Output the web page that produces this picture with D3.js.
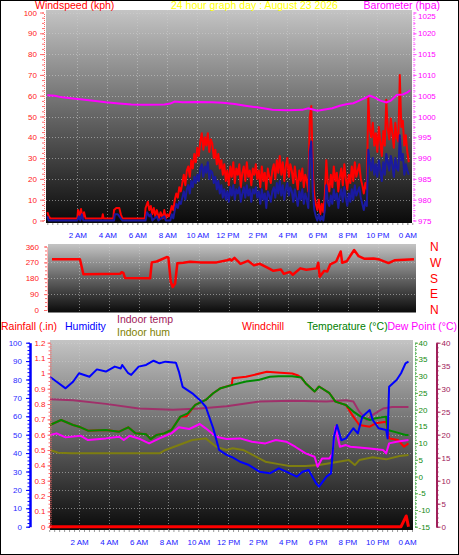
<!DOCTYPE html>
<html><head><meta charset="utf-8">
<script src="https://cdn.jsdelivr.net/npm/d3@7"></script>
<style>
html,body{margin:0;padding:0;background:#fff;}
svg{display:block;}
</style></head><body>
<svg id="c" width="459" height="555"></svg>
<script>
// ---------------- DATA ----------------
const hourTicks = [2,4,6,8,10,12,14,16,18,20,22,24];
const hourLabels = ["2 AM","4 AM","6 AM","8 AM","10 AM","12 PM","2 PM","4 PM","6 PM","8 PM","10 PM","0 AM"];
const kphTicks = [0,10,20,30,40,50,60,70,80,90,100];
const hpaTicks = [975,980,985,990,995,1000,1005,1010,1015,1020,1025];
const dirTicks = [0,90,180,270,360];
const dirLabels = ["N","E","S","W","N"];
const humTicks = [0,10,20,30,40,50,60,70,80,90,100];
const rainTicks = [0,0.1,0.2,0.3,0.4,0.5,0.6,0.7,0.8,0.9,1,1.1,1.2];
const tempTicks = [-15,-10,-5,0,5,10,15,20,25,30,35,40];
const inTempTicks = [0,5,10,15,20,25,30,35,40];

// calm night wind [hour, kph]
const gustNight = [[0,4],[0.1,2],[0.2,1],[2.0,1],[2.05,5],[2.15,2],[2.25,5.5],[2.35,1],[2.45,4],[2.55,1],[3.65,1],[3.7,3],[3.75,1],[4.4,1],[4.45,5],[4.6,6],[4.8,6],[4.9,3],[5.0,1],[6.5,1],[6.55,6],[6.7,9],[6.8,5],[6.9,7],[7.0,3],[7.1,6],[7.2,2],[7.3,5],[7.45,1],[7.55,4],[7.7,1],[7.8,5],[7.9,1],[8.0,3],[8.1,2]];
const avgNight = [[0,2],[0.1,0],[2.0,0],[2.1,2],[2.2,0],[2.3,3],[2.4,0],[4.45,0],[4.5,3],[4.7,3],[4.9,1],[5.0,0],[6.55,0],[6.65,4],[6.8,2],[6.9,3],[7.0,0],[7.3,2],[7.4,0],[7.8,2],[7.9,0],[8.1,0]];
// day wind, sampled every 0.1 h from 8.2 h
const windStart = 8.2, windStep = 0.1;
const gustDay = [4,7,5,10,13,11,16,14,
 18,22,17,24,26,21,29,25,32,28,
 35,31,38,42,34,40,36,42,33,39,
 37,30,34,27,32,25,29,22,27,19,
 24,17,26,21,28,18,25,22,27,16,
 23,26,19,28,21,24,17,25,22,27,
 20,24,16,26,19,23,15,25,21,18,
 24,27,20,29,23,31,22,28,19,26,
 30,21,27,24,18,26,20,15,24,19,
 25,16,22,19,14,50,55,24,12,8,
 5,10,3,8,4,12,29,18,14,22,
 16,26,19,23,14,21,25,17,27,20,
 15,22,18,26,19,28,21,24,27,20,
 17,13,18,15,59,44,40,47,36,42,
 33,45,38,31,43,36,58,44,39,49,
 42,35,47,40,38,70,45,48,36,41,
 33,28];
const avgDay = [0,3,1,5,8,6,9,8,
 11,14,10,15,17,13,19,16,21,18,
 22,19,25,27,21,26,23,28,20,24,
 23,18,21,15,19,13,17,11,15,10,
 14,9,16,12,17,10,15,13,16,9,
 13,16,11,17,12,15,9,15,13,16,
 11,14,8,15,10,13,6,14,12,9,
 14,16,11,18,13,19,12,17,10,15,
 18,12,16,14,9,15,11,7,14,10,
 15,8,13,10,6,33,38,14,5,2,
 0,3,0,2,0,5,17,9,7,12,
 8,15,10,13,6,12,15,9,16,11,
 7,13,9,15,10,17,12,14,16,11,
 8,5,9,7,34,28,24,30,22,27,
 21,29,24,19,28,22,32,28,24,31,
 27,21,30,25,24,41,29,32,22,27,
 24,22];
const barometer = [[0,1005.1],[0.5,1005.0],[1.0,1004.6],[1.7,1004.3],[2.5,1004.0],[3.2,1003.7],[3.9,1003.4],[4.6,1003.2],[5.6,1002.9],[6.5,1002.8],[7.8,1002.9],[8.2,1003.1],[8.5,1003.6],[9.0,1003.4],[10.0,1003.5],[11.0,1003.4],[11.7,1003.3],[12.5,1003.0],[13.2,1002.6],[14.0,1002.2],[15.0,1001.6],[16.0,1001.5],[17.0,1001.6],[17.4,1002.0],[18.0,1001.4],[18.5,1001.7],[19.0,1002.0],[19.5,1002.6],[20.0,1003.0],[20.4,1003.2],[20.8,1003.8],[21.2,1004.5],[21.5,1005.0],[21.8,1004.6],[22.2,1003.8],[22.6,1003.4],[22.9,1003.8],[23.3,1005.2],[23.7,1005.3],[24.0,1005.8],[24.2,1006.3]];
const windDir = [[0.2,288],[2.07,288],[2.3,203],[4.75,205],[4.86,214],[4.97,210],[5.08,182],[6.76,180],[6.87,270],[7.2,275],[7.87,300],[7.98,298],[8.14,160],[8.27,130],[8.43,150],[8.58,265],[8.98,268],[9.43,274],[10.1,270],[11.2,270],[11.9,282],[12.1,288],[12.2,280],[12.4,296],[12.8,262],[13.3,279],[13.7,253],[14.1,262],[14.6,240],[15.0,222],[15.5,230],[15.7,205],[16.1,216],[16.3,200],[16.8,236],[17.2,228],[17.9,236],[18.0,268],[18.1,188],[18.4,222],[18.6,218],[18.8,258],[19.2,275],[19.5,332],[19.6,268],[19.9,276],[20.4,340],[20.7,305],[21.1,290],[21.7,292],[22.1,286],[22.7,266],[23.1,282],[24.4,288]];
const humidity = [[0.05,81.5],[0.5,78.8],[1.1,75.2],[1.6,78.8],[2.0,83.4],[2.7,81.5],[3.2,85.5],[3.8,84.3],[4.4,87],[4.8,86],[4.9,87.9],[5.3,83.4],[5.5,82.5],[6.0,87],[6.5,87.9],[7.0,90.2],[7.4,88.8],[7.8,89.7],[8.5,89.1],[8.7,84.3],[8.95,76],[9.6,72.5],[10.1,68.9],[10.5,65.2],[11.0,53.5],[11.4,41.7],[11.9,39],[12.3,37.7],[12.8,35.3],[13.4,33.5],[14.1,29.9],[14.8,29],[15.4,31.7],[15.9,29.9],[16.6,27.2],[17.0,29.9],[17.4,30.8],[17.9,23.6],[18.1,21.8],[18.6,27.2],[18.9,29],[19.1,48.9],[19.3,55.3],[19.6,47],[19.9,48],[20.4,53.5],[20.7,50.7],[21.0,59.8],[21.5,63.4],[21.7,58],[22.1,53.5],[22.6,52.6],[22.7,48],[22.8,76],[23.3,79.7],[23.6,83.4],[23.9,88.8],[24.1,89.7]];
const temperature = [[0.05,15.4],[0.8,16.9],[1.6,15.4],[2.0,14.9],[2.6,13.7],[3.8,13.9],[4.7,13.4],[5.3,14.7],[5.8,12.9],[6.5,12.6],[6.8,11.2],[7.2,12.4],[7.7,12.9],[8.2,13.9],[8.5,15.9],[8.8,17.9],[9.3,18.9],[9.8,21.4],[10.5,22.9],[11.0,24.9],[11.5,26.4],[12.3,27.4],[13.2,28.4],[14.1,28.9],[14.8,29.8],[15.4,30],[16.3,30],[16.9,29.6],[17.2,27.9],[17.8,25.4],[18.1,26.9],[18.8,24.9],[19.2,22.4],[19.9,21.4],[20.4,19.4],[20.9,17.9],[21.5,16.9],[21.9,17.4],[22.6,17.9],[22.7,13.9],[23.3,13.2],[23.9,12.4],[24.1,12.4]];
const windchill = [[0.05,15.4],[0.8,16.9],[1.6,15.4],[2.0,14.9],[2.6,13.7],[3.8,13.9],[4.7,13.4],[5.3,14.7],[5.8,12.9],[6.5,12.6],[6.8,11.2],[7.2,12.4],[7.7,12.9],[8.2,13.9],[8.5,15.9],[8.8,17.9],[9.2,18.0],[9.8,21.4],[10.5,22.9],[11.0,24.9],[11.5,26.4],[12.25,27.4],[12.3,29.4],[13.2,29.8],[14.6,31.3],[15.5,31.0],[16.3,30.8],[16.7,30.2],[16.9,29.6],[17.2,27.9],[17.8,25.4],[18.1,26.9],[18.8,24.9],[19.2,22.4],[19.9,21.4],[20.4,17.9],[20.8,15.4],[21.5,14.9],[21.9,15.9],[22.6,16.4],[22.8,11.4],[23.4,10.9],[23.8,8.9],[24.1,9.9]];
const dewPoint = [[0.05,12.4],[0.5,12.9],[1.1,11.7],[2.1,12.2],[2.6,10.9],[3.8,11.4],[4.7,11.9],[5.0,10.9],[5.4,12.2],[6.1,11.2],[6.7,9.9],[7.4,11.4],[8.2,12.9],[8.7,14.7],[9.4,14.2],[10.1,15.7],[10.5,14.4],[11.2,11.9],[11.9,11.2],[12.8,11.4],[13.6,10.4],[14.5,9.9],[15.2,10.9],[15.9,10.4],[16.5,8.9],[17.2,6.9],[17.8,5.9],[18.0,2.9],[18.3,5.4],[18.8,5.4],[19.0,6.9],[19.2,14.9],[19.5,8.9],[19.9,9.4],[20.2,8.9],[20.8,8.7],[21.5,8.4],[22.4,7.9],[22.6,6.9],[22.8,9.9],[23.3,10.4],[24.1,10.9]];
const indoorTemp = [[0.05,27.7],[1.6,27.5],[3.8,26.7],[6.0,25.7],[8.3,25.4],[10.1,25.7],[11.9,26.2],[14.1,27.2],[16.3,27.4],[18.6,27.2],[19.9,27.5],[20.4,27.2],[20.8,25],[21.3,23.2],[21.7,24.3],[22.4,25.7],[23.0,26],[24.1,26]];
const indoorHum = [[0.05,41.7],[0.6,40.2],[1.5,39.9],[7.4,39.9],[7.8,41.7],[8.7,44.4],[9.6,47.1],[10.5,48],[11.2,43.5],[11.9,41.7],[12.3,42.6],[13.0,41.7],[13.9,38],[14.5,35.3],[15.4,34],[16.1,33],[17.2,33],[18.1,33.5],[19.0,34.8],[20.1,36.2],[20.5,33.5],[20.8,36.2],[21.7,37.7],[22.6,36.6],[23.5,38.4],[24.1,39]];
const rainfall = [[0,0],[23.6,0],[23.95,0.07],[24.1,0]];

// ---------------- DRAW ----------------
const F = '"Liberation Sans", Arial, Helvetica, sans-serif';
const svg = d3.select("#c").attr("font-family", F);
const defs = svg.append("defs");
const grad = defs.append("linearGradient").attr("id","bg").attr("x1",0).attr("y1",0).attr("x2",0).attr("y2",1);
grad.append("stop").attr("offset","0%").attr("stop-color","#c4c4c4");
grad.append("stop").attr("offset","45%").attr("stop-color","#6e6e6e");
grad.append("stop").attr("offset","100%").attr("stop-color","#0a0a0a");

svg.append("rect").attr("x",0.5).attr("y",0.5).attr("width",458).attr("height",554)
  .attr("fill","#fff").attr("stroke","#000");

function plotBg(x0,y0,x1,y1){
  svg.append("rect").attr("x",x0).attr("y",y0).attr("width",x1-x0).attr("height",y1-y0).attr("fill","url(#bg)");
}
function grid(xs, ys, xs_, ys_, x0,x1,y0,y1){
  const g = svg.append("g").attr("stroke","#d0d0d0").attr("stroke-opacity",0.55).attr("stroke-dasharray","1,2");
  xs.forEach(v=>g.append("line").attr("x1",Math.round(xs_(v))+0.5).attr("x2",Math.round(xs_(v))+0.5).attr("y1",y0).attr("y2",y1));
  ys.forEach(v=>g.append("line").attr("x1",x0).attr("x2",x1).attr("y1",Math.round(ys_(v))+0.5).attr("y2",Math.round(ys_(v))+0.5));
}
function styleAxis(g, textColor, lineColor, dash, width){
  g.select(".domain").attr("stroke",lineColor).attr("stroke-width",width||1).attr("stroke-dasharray",dash||null);
  g.selectAll(".tick line").attr("stroke",lineColor);
  g.selectAll(".tick text").attr("fill",textColor).style("font-size","8px").attr("font-family",F);
}
// mk: function returning a fresh d3 axis generator
function addAxis(mk, tx, ty, ticks, fmt, size, pad, textColor, lineColor, dash, width, minor, minorSize){
  if (minor){
    const mg = svg.append("g").attr("transform",`translate(${tx},${ty})`)
      .call(mk().tickValues(minor).tickFormat("").tickSize(minorSize).tickSizeOuter(0));
    mg.select(".domain").remove();
    mg.selectAll(".tick line").attr("stroke",lineColor);
  }
  const g = svg.append("g").attr("transform",`translate(${tx},${ty})`)
    .call(mk().tickValues(ticks).tickFormat(fmt).tickSize(size).tickPadding(pad).tickSizeOuter(0));
  styleAxis(g, textColor, lineColor, dash, width);
  return g;
}
function text(x,y,s,color,size,anchor){
  return svg.append("text").attr("x",x).attr("y",y).text(s).attr("fill",color)
    .style("font-size",size+"px").attr("text-anchor",anchor||"start");
}
const line = (xs, ys) => d3.line().x(d=>xs(d[0])).y(d=>ys(d[1]));
const hourFmt = d => hourLabels[hourTicks.indexOf(d)];

// ---- Top chart ----
const xT = d3.scaleLinear().domain([0,24]).range([47.3,407.3]);
const yW = d3.scaleLinear().domain([0,100]).range([220.5,12.5]);
const yP = d3.scaleLinear().domain([975,1025]).range([220.5,12.5]);
plotBg(46,10,412,223);
grid(hourTicks.slice(0,11), kphTicks.slice(1), xT, yW, 46,412,10,223);

const gust = gustNight.concat(gustDay.map((v,i)=>[windStart+i*windStep, v]));
const avg = avgNight.concat(avgDay.map((v,i)=>[windStart+i*windStep, v]));
svg.append("path").datum(gust).attr("d",line(xT,yW)).attr("fill","none").attr("stroke","#ff0000").attr("stroke-width",2).attr("stroke-linejoin","round");
svg.append("path").datum(avg).attr("d",line(xT,yW)).attr("fill","none").attr("stroke","#1a1aa0").attr("stroke-width",2).attr("stroke-linejoin","round");
svg.append("path").datum(barometer).attr("d",line(xT,yP)).attr("fill","none").attr("stroke","#ff00ff").attr("stroke-width",2);

addAxis(()=>d3.axisLeft(yW), 44, 0, kphTicks, d=>d, 4, 3, "#ff2020", "#ff6a6a", "1,1", 1, d3.range(0,101,2.5), 2);
const pAxis = addAxis(()=>d3.axisRight(yP), 413.5, 0, hpaTicks, d=>d, 3, 1.5, "#ff00ff", "#ff55ff", "1,1", 1, d3.range(975,1025.1,1.25), 2);
pAxis.selectAll(".tick text").filter(d=>d===1025).attr("dy","0.72em");
addAxis(()=>d3.axisBottom(xT), 0, 223, hourTicks, hourFmt, 2, 7, "#2020ff", "#9a9a9a", null, 0, d3.range(0,24.4,1/3), 2)
  .select(".domain").remove();

text(35,8.5,"Windspeed (kph)","#ff0000",10.5);
text(171,8.5,"24 hour graph day : August 23 2026","#ffff00",10.5);
text(440,8.5,"Barometer (hpa)","#ff00ff",10.5,"end");

// ---- Middle chart (wind direction) ----
const xM = d3.scaleLinear().domain([0,24]).range([49,408]);
const yD = d3.scaleLinear().domain([0,360]).range([310,246.5]);
plotBg(48,244,416,312.5);
grid(hourTicks.slice(0,11), [90,180,270], xM, yD, 48,416,244,312.5);
svg.append("path").datum(windDir).attr("d",line(xM,yD)).attr("fill","none").attr("stroke","#ff0000").attr("stroke-width",2.5).attr("stroke-linejoin","round");
addAxis(()=>d3.axisLeft(yD), 47, 0, dirTicks, d=>d, 3, 5, "#ff2020", "#ff6a6a", "1,1", 1, d3.range(0,361,22.5), 2);
svg.append("g").selectAll("text").data(dirTicks).join("text")
  .attr("x",430).attr("y",d=>yD(d)).attr("dy","0.36em").text((d,i)=>dirLabels[i])
  .attr("fill","#ff0000").style("font-size","12px");

// ---- Bottom chart ----
const xB = d3.scaleLinear().domain([0,24]).range([49.2,407]);
const yH = d3.scaleLinear().domain([0,100]).range([526.7,342.7]);
const yR = d3.scaleLinear().domain([0,1.2]).range([526.7,342.7]);
const yT = d3.scaleLinear().domain([-15,40]).range([526.7,342.7]);
const yI = d3.scaleLinear().domain([0,40]).range([526.7,342.7]);
plotBg(50,340,413,530);
grid(hourTicks.slice(0,11), humTicks.slice(1), xB, yH, 50,413,340,530);

const drawB = (data, ys, color, w) => svg.append("path").datum(data).attr("d",line(xB,ys))
  .attr("fill","none").attr("stroke",color).attr("stroke-width",w||2).attr("stroke-linejoin","round");
drawB(indoorTemp, yI, "#a0306a");
drawB(indoorHum, yH, "#7e7e10");
drawB(windchill, yT, "#ff0000");
drawB(temperature, yT, "#008a00");
drawB(dewPoint, yT, "#ff00ff");
drawB(humidity, yH, "#0000ff");
drawB(rainfall, yR, "#ff0000", 3);

addAxis(()=>d3.axisLeft(yH), 30, 0, humTicks, d=>d, 4, 4, "#2a2aff", "#0000ff", null, 2.5, d3.range(0,101,2), 2.5);
addAxis(()=>d3.axisLeft(yR), 50.5, 0, rainTicks, d=>d3.format("~g")(d), 3, 2, "#ff2020", "#ff6a6a", "1,1", 1, d3.range(0,1.201,0.025), 2);
addAxis(()=>d3.axisRight(yT), 415, 0, tempTicks, d=>d, 3, 0.5, "#118a11", "#58b058", "1,1", 1, d3.range(-15,40.1,1), 2);
addAxis(()=>d3.axisRight(yI), 436.5, 0, inTempTicks, d=>d, 4, 1, "#a0205a", "#a0205a", null, 2, d3.range(0,40.1,1), 2);
addAxis(()=>d3.axisBottom(xB), 0, 530, hourTicks, hourFmt, 2, 7, "#2020ff", "#9a9a9a", null, 0, d3.range(0,24.4,1/3), 2)
  .select(".domain").remove();

text(1,330,"Rainfall (.in)","#ff0000",10.5);
text(65,330,"Humidity","#0000ff",10.5);
text(117,322.5,"Indoor temp","#a0205a",10.5);
text(117,336,"Indoor hum","#808000",10.5);
text(242,330,"Windchill","#ff0000",10.5);
text(307,330,"Temperature (°C)","#008000",10.5);
text(457,330,"Dew Point (°C)","#ff00ff",10.5,"end");
</script>
</body></html>
